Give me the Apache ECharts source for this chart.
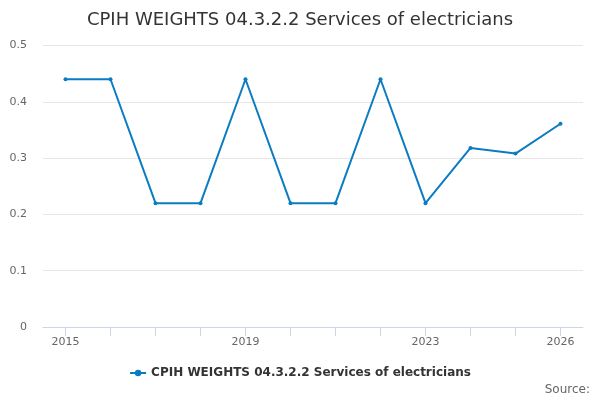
<!DOCTYPE html>
<html><head><meta charset="utf-8">
<script src="https://cdn.jsdelivr.net/npm/echarts@6/dist/echarts.min.js"></script>
<style>html,body{margin:0;padding:0;background:#fff}#c{width:600px;height:400px}</style>
</head><body><div id="c"></div>
<script>
var years = ['2015','2016','2017','2018','2019','2020','2021','2022','2023','2024','2025','2026'];
var values = [0.44,0.44,0.22,0.22,0.44,0.22,0.22,0.44,0.22,0.318,0.308,0.361];
var yTicks = [0,0.1,0.2,0.3,0.4,0.5];
var shownLabels = ['2015','2019','2023','2026'];
var seriesName = 'CPIH WEIGHTS 04.3.2.2 Services of electricians';
var font = 'DejaVu Sans';
var chart = echarts.init(document.getElementById('c'));
chart.setOption({
  animation:false,
  title:{text:seriesName,left:'center',top:6,textStyle:{fontFamily:font,fontSize:18,fontWeight:'normal',color:'#333'}},
  graphic:[{type:'text',right:10,top:384,style:{text:'Source:',font:'12px "DejaVu Sans"',fill:'#666'}}],
  legend:{bottom:16,left:'center',itemWidth:16,itemHeight:8,itemGap:5,textStyle:{fontFamily:font,fontSize:12,fontWeight:'bold',color:'#333'},data:[seriesName]},
  grid:{left:43,right:17,top:45.5,bottom:73,containLabel:false},
  xAxis:{type:'category',data:years,boundaryGap:true,
    axisLine:{show:true,lineStyle:{color:'#ccd6eb',width:1}},
    axisTick:{show:true,alignWithLabel:true,interval:0,length:9,lineStyle:{color:'#ccd6eb',width:1}},
    axisLabel:{interval:function(i,v){return shownLabels.indexOf(v)>=0;},fontFamily:font,fontSize:11,color:'#666',margin:10}},
  yAxis:{type:'value',min:yTicks[0],max:yTicks[yTicks.length-1],interval:0.1,
    axisLine:{show:false},axisTick:{show:false},
    splitLine:{lineStyle:{color:'#e6e6e6'}},
    axisLabel:{fontFamily:font,fontSize:11,color:'#666',margin:16}},
  series:[{name:seriesName,type:'line',data:values,color:'#0a7cc1',
    lineStyle:{width:2},symbol:'circle',symbolSize:4,itemStyle:{color:'#0a7cc1'}}]
});
</script></body></html>
